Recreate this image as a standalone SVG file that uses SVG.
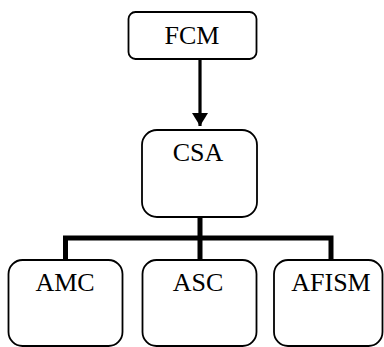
<svg xmlns="http://www.w3.org/2000/svg" width="384" height="347" viewBox="0 0 384 347">
  <style>
    .box { fill: #ffffff; stroke: #000000; stroke-width: 1.8; }
    .label { font-family: "Liberation Serif", "Times New Roman", serif; font-size: 26px; fill: #000000; text-anchor: middle; }
    .link { fill: none; stroke: #000000; stroke-width: 5; stroke-linecap: butt; stroke-linejoin: miter; }
    .arrow { fill: none; stroke: #000000; stroke-width: 3.2; }
  </style>
  <defs>
    <marker id="head" viewBox="0 0 13 16" refX="13" refY="8" markerWidth="13" markerHeight="16" markerUnits="userSpaceOnUse" orient="auto">
      <path d="M0,0 L13,8 L0,16 Z" fill="#000000"/>
    </marker>
  </defs>

  <g id="connectors">
    <line class="arrow" x1="200" y1="59" x2="200" y2="126" marker-end="url(#head)"/>
    <path class="link" d="M200,217 V238 M63,238 H333.5 M65.5,238 V260 M200,238 V260 M331,238 V260"/>
  </g>

  <g id="fcm">
    <rect class="box" x="128.5" y="12" width="128" height="47" rx="7"/>
    <text class="label" x="192" y="44">FCM</text>
  </g>

  <g id="csa">
    <rect class="box" x="142" y="130" width="115" height="87" rx="15"/>
    <text class="label" x="198" y="161">CSA</text>
  </g>

  <g id="amc">
    <rect class="box" x="8.5" y="260" width="114" height="86" rx="14"/>
    <text class="label" x="65" y="291">AMC</text>
  </g>

  <g id="asc">
    <rect class="box" x="142.5" y="260" width="114" height="86" rx="14"/>
    <text class="label" x="198" y="291">ASC</text>
  </g>

  <g id="afism">
    <rect class="box" x="274" y="260" width="108.5" height="86" rx="14"/>
    <text class="label" x="331" y="291">AFISM</text>
  </g>
</svg>
